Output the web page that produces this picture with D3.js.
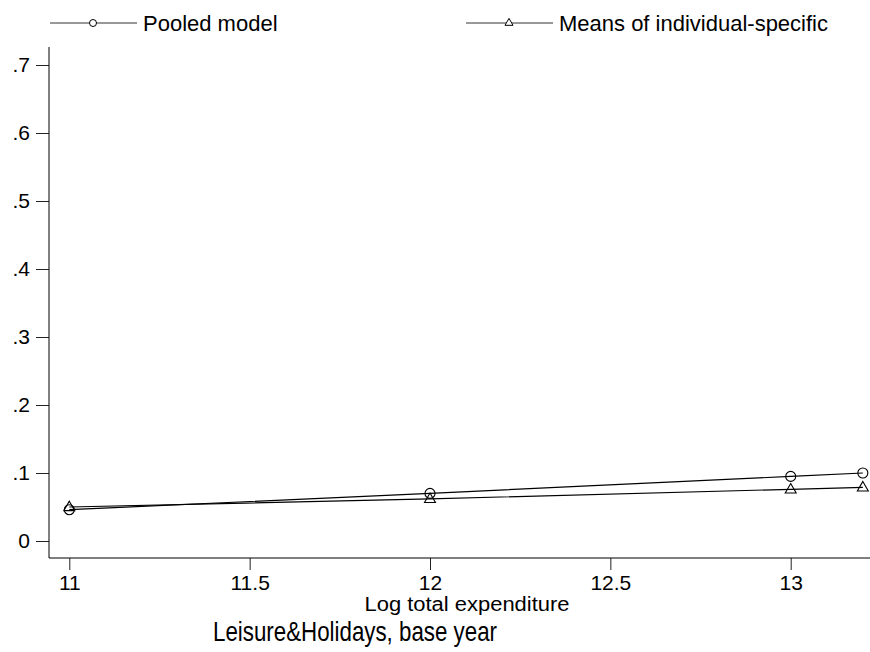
<!DOCTYPE html>
<html>
<head>
<meta charset="utf-8">
<title>Leisure&amp;Holidays, base year</title>
<script src="https://cdn.jsdelivr.net/npm/d3@7"></script>
<style>
  body { margin: 0; background: #fff; }
  svg { font-family: "Liberation Sans", Arial, sans-serif; }
</style>
</head>
<body>
<svg id="chart" width="870" height="652"></svg>
<script>
// data
var logExp = [11, 12, 13, 13.2];
var pooled = [0.046, 0.070, 0.095, 0.100];
var indivMeans = [0.050, 0.062, 0.076, 0.079];
var xTicks = [11, 11.5, 12, 12.5, 13];
var yTicks = [0, 0.1, 0.2, 0.3, 0.4, 0.5, 0.6, 0.7];

var svg = d3.select("#chart");

var x = d3.scaleLinear().domain([11, 13]).range([69.3, 790.7]);
var y = d3.scaleLinear().domain([0, 0.7]).range([541, 65]);

var axisLeft = 49, axisBottom = 558;

// y axis
var yAx = svg.append("g").attr("transform", "translate(" + axisLeft + ",0)")
  .call(d3.axisLeft(y).tickValues(yTicks).tickSize(13).tickPadding(6)
    .tickFormat(function(d) { return d === 0 ? "0" : d3.format(".1f")(d).replace(/^0/, ""); }));
yAx.select(".domain").remove();
yAx.append("line").attr("x1", 0).attr("x2", 0).attr("y1", 47).attr("y2", axisBottom).attr("stroke", "#000");

// x axis
var xAx = svg.append("g").attr("transform", "translate(0," + axisBottom + ")")
  .call(d3.axisBottom(x).tickValues(xTicks).tickSize(12).tickPadding(5)
    .tickFormat(function(d) { return String(d); }));
xAx.select(".domain").remove();
xAx.append("line").attr("x1", axisLeft).attr("x2", 870).attr("y1", 0).attr("y2", 0).attr("stroke", "#000");

svg.selectAll(".tick line").attr("stroke", "#222");
svg.selectAll(".tick text").attr("font-size", 21).attr("fill", "#000")
  .attr("font-family", "Liberation Sans, Arial, sans-serif");

// series
var line = d3.line().x(function(d) { return x(d[0]); }).y(function(d) { return y(d[1]); });
var sPooled = logExp.map(function(v, i) { return [v, pooled[i]]; });
var sIndiv = logExp.map(function(v, i) { return [v, indivMeans[i]]; });

svg.append("path").datum(sPooled).attr("d", line)
  .attr("fill", "none").attr("stroke", "#000").attr("stroke-width", 1.2);
svg.append("path").datum(sIndiv).attr("d", line)
  .attr("fill", "none").attr("stroke", "#000").attr("stroke-width", 1.2);

var tri = d3.symbol().type(d3.symbolTriangle).size(52);
var triSmall = d3.symbol().type(d3.symbolTriangle).size(28);

svg.selectAll(".pt-pooled").data(sPooled).enter().append("circle")
  .attr("cx", function(d) { return x(d[0]); })
  .attr("cy", function(d) { return y(d[1]); })
  .attr("r", 5).attr("fill", "none").attr("stroke", "#000").attr("stroke-width", 1.1);

svg.selectAll(".pt-indiv").data(sIndiv).enter().append("path")
  .attr("d", tri)
  .attr("transform", function(d) { return "translate(" + x(d[0]) + "," + (y(d[1]) + 0.5) + ")"; })
  .attr("fill", "none").attr("stroke", "#000").attr("stroke-width", 1.1);

// legend
var lg1 = svg.append("g");
lg1.append("line").attr("x1", 50).attr("x2", 137).attr("y1", 23).attr("y2", 23).attr("stroke", "#333");
lg1.append("circle").attr("cx", 93).attr("cy", 23).attr("r", 3.5).attr("fill", "#fff").attr("stroke", "#000");
lg1.append("text").attr("x", 143).attr("y", 31).attr("font-size", 22).text("Pooled model");

var lg2 = svg.append("g");
lg2.append("line").attr("x1", 466).attr("x2", 553).attr("y1", 23).attr("y2", 23).attr("stroke", "#333");
lg2.append("path").attr("d", triSmall).attr("transform", "translate(509,23)")
  .attr("fill", "#fff").attr("stroke", "#000");
lg2.append("text").attr("x", 559).attr("y", 31).attr("font-size", 22)
  .attr("textLength", 269).attr("lengthAdjust", "spacingAndGlyphs")
  .text("Means of individual-specific");

// titles
svg.append("text").attr("x", 467).attr("y", 611).attr("text-anchor", "middle")
  .attr("font-size", 20).attr("textLength", 205).attr("lengthAdjust", "spacingAndGlyphs")
  .text("Log total expenditure");
svg.append("text").attr("x", 355).attr("y", 641).attr("text-anchor", "middle")
  .attr("font-size", 28).attr("textLength", 284).attr("lengthAdjust", "spacingAndGlyphs")
  .text("Leisure&Holidays, base year");
</script>
</body>
</html>
